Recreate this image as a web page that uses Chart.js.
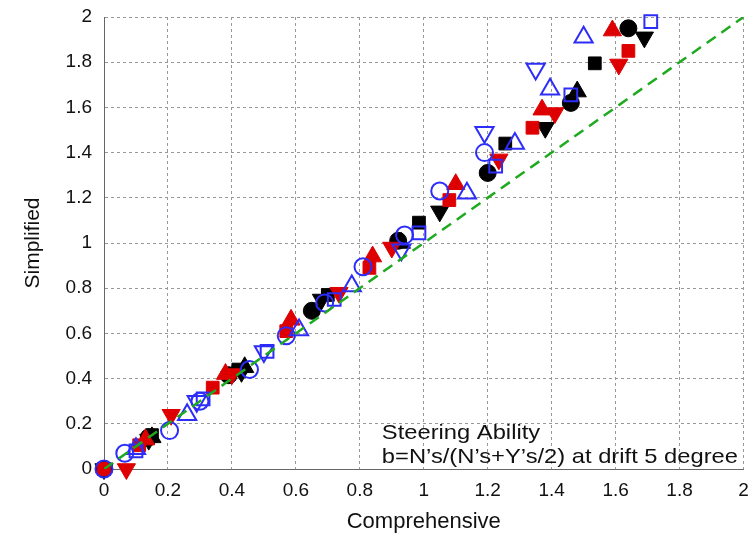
<!DOCTYPE html>
<html>
  <head>
    <meta charset="UTF-8" />
    <script src="https://cdn.jsdelivr.net/npm/chart.js"></script>
    <style>
      body { margin: 0; background: #fff; }
    </style>
  </head>
  <body>
    <canvas id="myChart" width="756" height="533"></canvas>
    <script>
      // axis ticks (both axes)
      const tickValues = [0, 0.2, 0.4, 0.6, 0.8, 1, 1.2, 1.4, 1.6, 1.8, 2];
      const diagonal = [[0, 0], [2, 2]];

      // [comprehensive, simplified] pairs
      const blackCircle = [[0, 0], [0.14, 0.14], [0.39, 0.415], [0.65, 0.7], [0.92, 1.01], [1.2, 1.31], [1.46, 1.62], [1.64, 1.95]];
      const blackSquare = [[0, 0], [0.15, 0.15], [0.42, 0.44], [0.7, 0.77], [0.985, 1.09], [1.255, 1.44], [1.535, 1.795]];
      const blackTriDown = [[0, 0], [0.14, 0.13], [0.43, 0.43], [0.68, 0.75], [1.05, 1.14], [1.38, 1.51], [1.69, 1.91]];
      const blackTriUp = [[0.15, 0.14], [0.44, 0.45], [0.93, 1.0], [1.48, 1.67]];
      const redSquare = [[0, 0], [0.11, 0.105], [0.34, 0.36], [0.57, 0.61], [0.83, 0.89], [1.08, 1.19], [1.34, 1.51], [1.64, 1.85]];
      const redTriUp = [[0.13, 0.13], [0.38, 0.42], [0.585, 0.66], [0.84, 0.94], [1.1, 1.26], [1.37, 1.59], [1.59, 1.94]];
      const redTriDown = [[0.07, 0], [0.21, 0.24], [0.4, 0.42], [0.735, 0.78], [0.9, 0.98], [1.235, 1.37], [1.41, 1.575], [1.61, 1.79]];
      const blueCircle = [[0, 0], [0.065, 0.07], [0.205, 0.17], [0.3, 0.3], [0.455, 0.44], [0.57, 0.59], [0.69, 0.735], [0.81, 0.895], [0.94, 1.035], [1.05, 1.23], [1.19, 1.4]];
      const blueSquare = [[0.1, 0.08], [0.31, 0.31], [0.51, 0.52], [0.72, 0.75], [0.985, 1.045], [1.225, 1.34], [1.46, 1.655], [1.71, 1.98]];
      const blueTriUp = [[0.1, 0.09], [0.26, 0.24], [0.61, 0.615], [0.775, 0.81], [1.135, 1.22], [1.285, 1.44], [1.395, 1.68], [1.5, 1.91]];
      const blueTriDown = [[0.29, 0.3], [0.5, 0.52], [0.93, 0.97], [1.19, 1.49], [1.35, 1.77]];

      const noteLines = ["Steering Ability", "b=N\u2019s/(N\u2019s+Y\u2019s/2) at drift 5 degree"];
      const noteX = 0.869;
      const noteY = [0.16, 0.053];

      const BLACK = "rgb(0, 0, 0)";
      const RED = "rgb(222, 0, 0)";
      const BLUE = "rgb(45, 45, 250)";
      const GREEN = "rgb(30, 170, 30)";
      const FONT = "'Liberation Sans', Arial, sans-serif";

      const toXY = pts => pts.map(([x, y]) => ({ x, y }));

      const markers = (data, color, style, filled, radius, rotation = 0) => ({
        type: "scatter",
        data: toXY(data),
        pointStyle: style,
        pointRadius: radius,
        pointRotation: rotation,
        pointBackgroundColor: filled ? color : "rgba(0,0,0,0)",
        pointBorderColor: color,
        pointBorderWidth: filled ? 1 : 2,
        clip: false,
        order: 1,
      });

      const datasets = [
        {
          type: "line",
          data: toXY(diagonal),
          borderColor: GREEN,
          borderWidth: 2.5,
          borderDash: [11, 7],
          pointRadius: 0,
          order: 0,
        },
        markers(blueTriDown, BLUE, "triangle", false, 10.5, 180),
        markers(blueTriUp, BLUE, "triangle", false, 10.5),
        markers(blueSquare, BLUE, "rect", false, 9),
        markers(blueCircle, BLUE, "circle", false, 8.5),
        markers(redTriDown, RED, "triangle", true, 10.5, 180),
        markers(redTriUp, RED, "triangle", true, 10.5),
        markers(redSquare, RED, "rect", true, 9),
        markers(blackTriUp, BLACK, "triangle", true, 10.5),
        markers(blackTriDown, BLACK, "triangle", true, 10.5, 180),
        markers(blackSquare, BLACK, "rect", true, 9),
        markers(blackCircle, BLACK, "circle", true, 8.5),
      ];

      // the note text is a little wider than the font, as in the original
      const notePlugin = {
        id: "note",
        afterDraw(chart) {
          const { ctx, scales } = chart;
          ctx.save();
          ctx.fillStyle = "#111";
          ctx.font = `21px ${FONT}`;
          ctx.textBaseline = "middle";
          ctx.textAlign = "left";
          const sx = 1.13;
          noteLines.forEach((t, i) => {
            const px = scales.x.getPixelForValue(noteX);
            const py = scales.y.getPixelForValue(noteY[i]);
            ctx.save();
            ctx.translate(px, py);
            ctx.scale(sx, 1);
            ctx.fillText(t, 0, 0);
            ctx.restore();
          });
          ctx.restore();
        },
      };

      const axis = (title, isY) => ({
        type: "linear",
        min: 0,
        max: 2,
        afterBuildTicks: scale => {
          scale.ticks = tickValues.map(v => ({ value: v }));
        },
        afterFit: scale => {
          if (isY) scale.width = 104;
          else scale.height = 64;
          // labels may hang over the plot edges, layout padding takes care of it
          scale.paddingLeft = scale.paddingRight = 0;
          scale.paddingTop = scale.paddingBottom = 0;
        },
        ticks: {
          color: "#111",
          font: { family: FONT, size: 19 },
          padding: isY ? 12 : 10,
          callback: v => String(+v.toFixed(1)),
        },
        grid: {
          color: "#999",
          lineWidth: 1,
          drawTicks: false,
        },
        border: { display: true, color: "#666", width: 1, dash: [3, 3] },
        title: {
          display: true,
          text: title,
          color: "#111",
          font: { family: FONT, size: isY ? 21 : 22 },
          padding: isY ? { top: 21, bottom: 0 } : { top: 0, bottom: -2 },
        },
      });

      new Chart(document.getElementById("myChart"), {
        data: { datasets },
        options: {
          responsive: false,
          animation: false,
          layout: { padding: { left: 0, right: 10, top: 17, bottom: 0 } },
          plugins: { legend: { display: false }, tooltip: { enabled: false } },
          scales: {
            x: { ...axis("Comprehensive", false), position: "bottom" },
            y: { ...axis("Simplified", true), position: "left" },
          },
        },
        plugins: [notePlugin],
      });
    </script>
  </body>
</html>
